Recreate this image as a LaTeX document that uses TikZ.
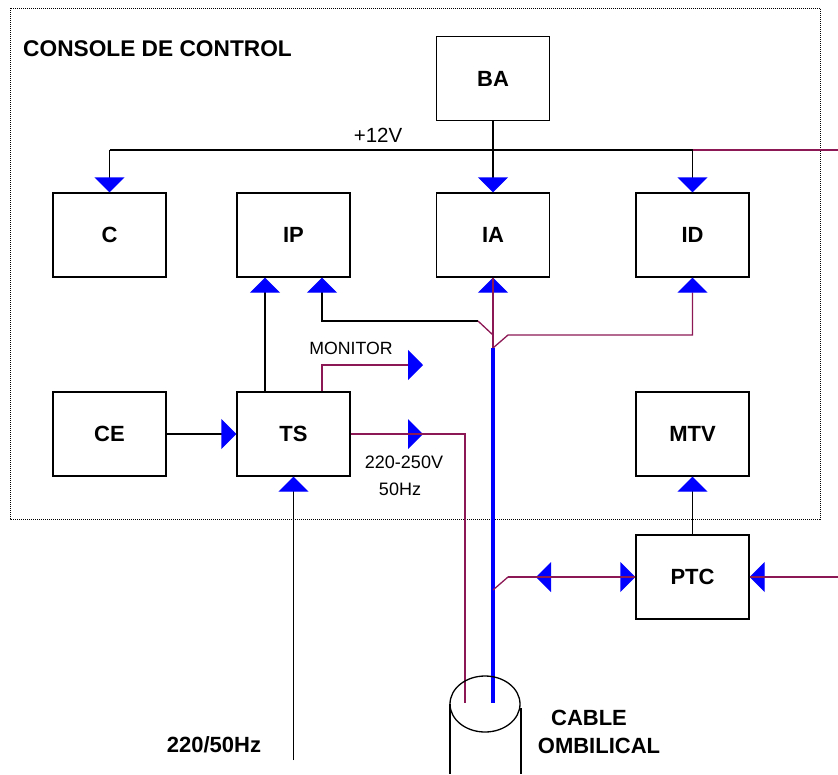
\documentclass[tikz,border=0pt]{standalone}
\usepackage{fontspec}
\setmainfont{Liberation Sans}
\usetikzlibrary{arrows.meta}
\definecolor{pur}{RGB}{140,25,85}
\begin{document}
\begin{tikzpicture}[x=1pt,y=-1pt,
  box/.style={draw, line width=1.3pt, minimum width=113pt, minimum height=84pt, inner sep=0pt, font=\fontsize{22}{24}\selectfont\bfseries},
  blk/.style={draw=black, line width=1.3pt},
  purl/.style={draw=pur, line width=1.3pt},
  tip/.style={-{Triangle[width=30pt,length=15pt,color=blue]}},
  lbl/.style={inner sep=0pt, font=\fontsize{18}{20}\selectfont},
  blbl/.style={inner sep=0pt, font=\fontsize{22}{24}\selectfont\bfseries}]
\useasboundingbox (0,0) rectangle (838,774);
\draw[line width=1pt, dash pattern=on 1pt off 1pt] (10,8) rectangle (820,519);

\node[box] (BA) at (493,78.5) {BA};
\node[box] (C) at (109.5,235) {C};
\node[box] (IP) at (293.5,235) {IP};
\node[box] (IA) at (493,235) {IA};
\node[box] (ID) at (692.5,235) {ID};
\node[box] (CE) at (109.5,434) {CE};
\node[box] (TS) at (293.5,434) {TS};
\node[box] (MTV) at (692.5,434) {MTV};
\node[box] (PTC) at (692.5,577) {PTC};

% +12V bus
\coordinate (busL) at (109.5,150);
\coordinate (busR) at (692.5,150);
\coordinate (busE) at (838,150);
\draw[blk] (busL) -- (busR);
\draw[blk,tip] (busL) -- (C.north);
\draw[blk,tip] (busR) -- (ID.north);
\draw[purl] (busR) -- (busE);
\draw[blk,tip] (BA.south) -- (IA.north);

% TS -> IP
\draw[blk,tip] ([xshift=-28.5pt]TS.north) -- ([xshift=-28.5pt]IP.south);

% junction near IA
\coordinate (j1) at (478,321);
\coordinate (j2) at (493,335);
\coordinate (j3) at (493,348);
\coordinate (j4) at (508,335);
\draw[blk,tip] (j1) -| ([xshift=28.5pt]IP.south);
\draw[purl] (j1) -- (j2);
\draw[purl,tip] (j3) -- (IA.south);
\draw[purl] (j3) -- (IA.south);
\draw[purl,tip] (j3) -- (j4) -| (ID.south);
\coordinate (c1) at (493,703);
\draw[line width=4.2pt, blue] (j3) -- (c1);

% PTC
\coordinate (p1) at (493,590);
\coordinate (p2) at (508,577);
\draw[purl,tip] (p1) -- (p2) -- (PTC.west);
\fill[blue] (551,562) -- (536,577) -- (551,592) -- cycle;
\draw[purl] (p2) -- (PTC.west);
\coordinate (pE) at (838,577);
\draw[purl,tip] (pE) -- (PTC.east);
\draw[purl] (pE) -- (PTC.east);
\draw[blk,tip] (PTC.north) -- (MTV.south);

% CE -> TS
\draw[blk,tip] (CE.east) -- (TS.west);

% monitor
\coordinate (mon) at (423,365);
\draw[purl,tip] ([xshift=28.5pt]TS.north) |- (mon);

% TS output to cable
\coordinate (t1) at (465,703);
\fill[blue] (408,419) -- (423,434) -- (408,449) -- cycle;
\draw[purl] (TS.east) -| (t1);

% mains input
\coordinate (pw) at (293.5,760);
\draw[blk,tip] (pw) -- (TS.south);

% cable
\draw[line width=1.3pt] (485,704) ellipse [x radius=35pt, y radius=28pt];
\draw[line width=1.3pt] (450,704) -- (450,774);
\draw[line width=1.3pt] (521,708) -- (521,774);

% labels
\node[blbl, anchor=west, font=\fontsize{22.7}{24}\selectfont\bfseries] (title) at (23,49) {CONSOLE DE CONTROL};
\node[lbl, font=\fontsize{20.5}{22}\selectfont] (v12) at (378,135) {+12V};
\node[lbl, font=\fontsize{17.7}{20}\selectfont] (monl) at (351,348) {MONITOR};
\node[lbl] (v220) at (404,462) {220-250V};
\node[lbl] (hz) at (400,489) {50Hz};
\node[blbl] (in220) at (214,745) {220/50Hz};
\node[blbl] (cab) at (589,718) {CABLE};
\node[blbl] (omb) at (599,746) {OMBILICAL};
\end{tikzpicture}
\end{document}
